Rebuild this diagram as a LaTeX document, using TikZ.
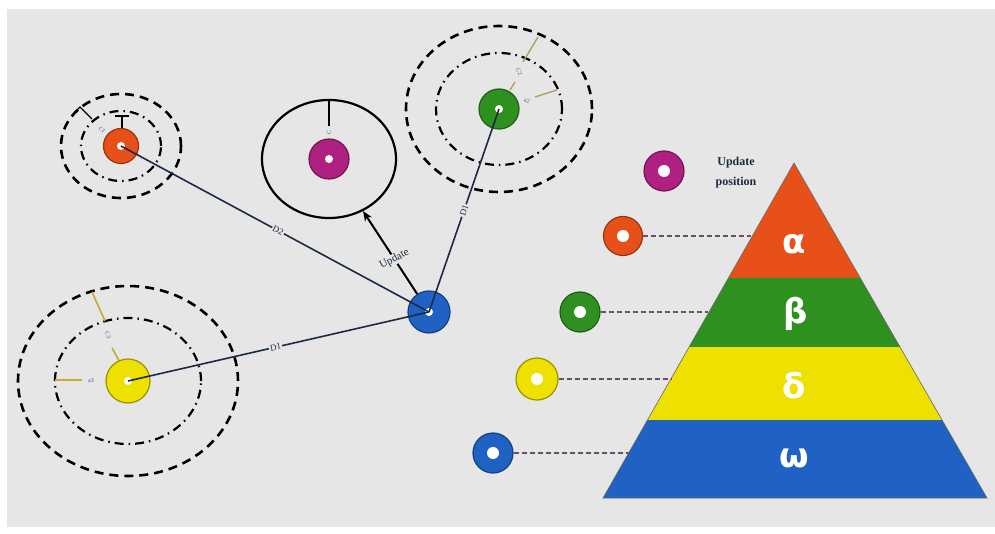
\documentclass[tikz,border=0pt]{standalone}
\usepackage{fontspec}
\setmainfont{Liberation Serif}
\newfontfamily\greekfont{DejaVu Sans}
\usetikzlibrary{shapes.geometric,arrows.meta,calc}

\definecolor{bgc}{HTML}{E6E6E6}
\definecolor{cOrange}{HTML}{E8501A}
\definecolor{cGreen}{HTML}{2E901E}
\definecolor{cYellow}{HTML}{EEE000}
\definecolor{cBlue}{HTML}{1F62C4}
\definecolor{cMag}{HTML}{B02080}
\definecolor{navy}{HTML}{1C2A44}
\definecolor{leadc}{HTML}{6E4E6E}
\definecolor{khaki}{HTML}{B0A060}
\definecolor{ochre}{HTML}{C8A830}
\definecolor{labc}{HTML}{3A5A8A}

\begin{document}
\begin{tikzpicture}[x=1pt,y=-1pt,
  disk/.style={circle, fill=#1, draw=#1!65!black, line width=1.2pt,
    minimum size=38pt, inner sep=0pt,
    path picture={\fill[white] (path picture bounding box.center) circle (4pt);}},
  bigdisk/.style={disk=#1,
    path picture={\fill[white] (path picture bounding box.center) circle (6pt);}},
  ringdash/.style={draw=black, line width=2.6pt, dash pattern=on 9pt off 6pt},
  ringdot/.style={draw=black, line width=2.2pt, dash pattern=on 9pt off 5pt on 1.5pt off 5pt},
  link/.style={draw=navy, line width=1.6pt},
  linklabel/.style={fill=bgc, inner sep=1pt, sloped, text=navy, font=\fontsize{9}{10}\selectfont},
  coef/.style={text=labc, inner sep=0.5pt, font=\fontsize{6}{7}\selectfont},
  leader/.style={draw=leadc, line width=1.6pt, dash pattern=on 5pt off 3pt},
  greek/.style={text=white, font=\greekfont\bfseries\fontsize{34}{34}\selectfont}
]
\useasboundingbox (0,0) rectangle (995,534);
\fill[white] (0,0) rectangle (995,534);
\fill[bgc] (7,9) rectangle (995,527);

% particle centres
\coordinate (cA) at (121,146);
\coordinate (cB) at (499,109);
\coordinate (cD) at (128,381);
\coordinate (cM) at (329,159);

% search rings
\draw[ringdash] (cA) ellipse [x radius=60pt, y radius=52pt];
\draw[ringdot]  (cA) ellipse [x radius=40pt, y radius=35pt];
\draw[ringdash] (cB) ellipse [x radius=93pt, y radius=83pt];
\draw[ringdot]  (cB) ellipse [x radius=63pt, y radius=56pt];
\draw[ringdash] (cD) ellipse [x radius=110pt, y radius=95pt];
\draw[ringdot]  (cD) ellipse [x radius=73pt, y radius=63pt];
\node[draw=black, line width=2.2pt, ellipse, minimum width=134pt, minimum height=118pt,
      inner sep=0pt] (zone) at (cM) {};

% coefficient markers
\draw[black, line width=1.4pt] (74,113) -- (80,107) -- (92,119);
\draw[black, line width=1.4pt] (115,116) -- (129,116) (122,116) -- (122,128);
\node[coef, rotate=-40] at (102,130) {C1};
\draw[khaki, line width=1.4pt] (538,37) -- (523,62) (515,82) -- (510,90);
\node[coef, rotate=-60] (c2) at (519,72) {C2};
\node[coef, rotate=-20] (a2) at (527,101) {a2};
\draw[khaki, line width=1.4pt] (535,97) -- (557,90);
\draw[ochre, line width=1.6pt] (92,292) -- (105,321) (112,348) -- (122,366);
\node[coef, rotate=-70] at (108,335) {C3};
\draw[ochre, line width=1.6pt] (55,380) -- (82,380);
\node[coef] at (91,381) {a3};
\draw[black, line width=1.4pt] (329,101) -- (329,126);
\node[coef, rotate=90] at (329,133) {C};

% particles
\node[disk=cOrange, minimum size=35pt] (alpha) at (cA) {};
\node[disk=cGreen, minimum size=40pt] (beta) at (cB) {};
\node[disk=cYellow, minimum size=44pt] (delta) at (cD) {};
\node[disk=cMag, minimum size=40pt] (omegaM) at (cM) {};
\node[disk=cBlue, minimum size=42pt] (wolf) at (429,312) {};

% distances to the leaders
\draw[link] (alpha.center) -- node[linklabel, pos=0.51] {D2} (wolf.center);
\draw[link] (beta.center) -- node[linklabel, pos=0.5] {D1} (wolf.center);
\draw[link] (delta.center) -- node[linklabel, pos=0.49] {D1} (wolf.center);

% position update
\draw[black, line width=2pt, -{Stealth[length=10pt,width=8pt]}] (wolf) --
  node[pos=0.42, fill=bgc, inner sep=0.5pt, rotate=28, text=navy,
       font=\fontsize{11}{12}\selectfont] {Update} (zone);

% hierarchy pyramid
\fill[cOrange] (794,163) -- (860.3,278) -- (728.4,278) -- cycle;
\fill[cGreen] (728.4,278) -- (860.3,278) -- (900,347) -- (689.1,347) -- cycle;
\fill[cYellow] (689.1,347) -- (900,347) -- (942,420) -- (647.5,420) -- cycle;
\fill[cBlue] (647.5,420) -- (942,420) -- (987,498) -- (603,498) -- cycle;
\draw[black!60, line width=0.6pt] (794,163) -- (987,498) -- (603,498) -- cycle;
\node[greek] (ga) at (794,244) {α};
\node[greek] (gb) at (796,314) {β};
\node[greek] (gd) at (794,386) {δ};
\node[greek] (gw) at (794,458) {ω};

% legend
\node[bigdisk=cMag, minimum size=40pt] (legM) at (664,171) {};
\node[text=navy, align=center, font=\bfseries\fontsize{12}{20}\selectfont] (legT) at (736,173) {Update\\position};
\node[bigdisk=cOrange, minimum size=39pt] (legA) at (623,236) {};
\node[bigdisk=cGreen, minimum size=40pt] (legB) at (580,312) {};
\node[bigdisk=cYellow, minimum size=42pt] (legD) at (537,379) {};
\node[bigdisk=cBlue, minimum size=40pt] (legW) at (493,453) {};
\coordinate (pa) at (751,236);
\coordinate (pb) at (708,312);
\coordinate (pd) at (671,379);
\coordinate (pw) at (630,453);
\draw[leader] (legA) -- (pa);
\draw[leader] (legB) -- (pb);
\draw[leader] (legD) -- (pd);
\draw[leader] (legW) -- (pw);
\end{tikzpicture}
\end{document}
